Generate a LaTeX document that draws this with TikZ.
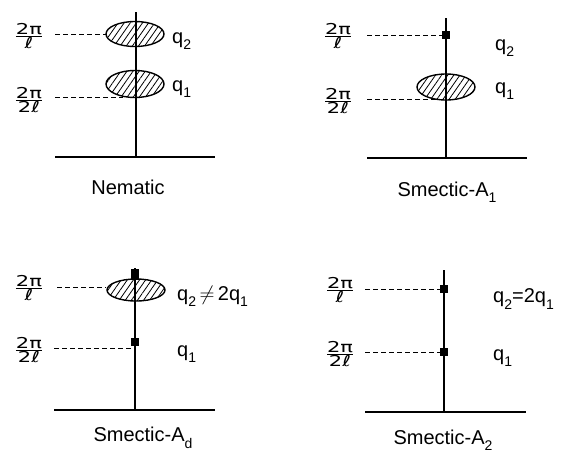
\documentclass[tikz,border=0pt]{standalone}
\usepackage{fontspec}
\setmainfont{Liberation Sans}
\newfontfamily\symf{DejaVu Sans}
\usetikzlibrary{shapes.geometric,patterns.meta}
\newcommand{\sbs}[1]{\raisebox{-0.32em}{\fontsize{14}{14}\selectfont #1}}
\newcommand{\fracl}[1]{\scalebox{1.4}[1]{${\mbox{\symf 2π}\above1.1pt\mbox{\symf #1}}$}}
\tikzset{
  lab/.style={font=\fontsize{20}{23}\selectfont, inner sep=0},
  fr/.style={font=\fontsize{15}{17}\selectfont, inner sep=0},
  hatch/.style={ellipse, draw, line width=1.4pt, inner sep=0,
    pattern={Lines[angle=55,distance=5pt,line width=0.8pt]}},
  sq/.style={rectangle, fill, minimum size=8pt, inner sep=0},
  axisl/.style={line width=1.3pt},
  basel/.style={line width=1.6pt},
  dline/.style={dash pattern=on 5pt off 3pt, line width=0.9pt}
}
\begin{document}
\begin{tikzpicture}[x=1pt,y=-1pt]
\useasboundingbox (0,0) rectangle (563,453);
% ---------- Panel 1: Nematic
\coordinate (a1t) at (136,12); \coordinate (a1b) at (136,157);
\coordinate (b1l) at (55,157); \coordinate (b1r) at (215,157);
\node[hatch, minimum width=58, minimum height=25] (n2) at (135,34) {};
\node[hatch, minimum width=58, minimum height=27] (n1) at (135,84) {};
\draw[axisl] (a1t) -- (a1b);
\draw[basel] (b1l) -- (b1r);
\coordinate (d1a) at (55,34); \coordinate (d1b) at (55,97); \coordinate (d1c) at (123,97);
\draw[dline] (d1a) -- (n2.west);
\draw[dline] (d1b) -- (d1c);
\node[fr] (f1a) at (29,36) {\fracl{ℓ}};
\node[fr] (f1b) at (29,100) {\fracl{2ℓ}};
\node[lab, anchor=west] (q1a) at (172,41) {q\sbs{2}};
\node[lab, anchor=west] (q1b) at (172,89) {q\sbs{1}};
\node[lab] (t1) at (128,187) {Nematic};
% ---------- Panel 2: Smectic-A1
\coordinate (a2t) at (446,18); \coordinate (a2b) at (446,158);
\coordinate (b2l) at (367,158); \coordinate (b2r) at (527,158);
\node[hatch, minimum width=58, minimum height=26] (s1) at (446,87) {};
\draw[axisl] (a2t) -- (a2b);
\draw[basel] (b2l) -- (b2r);
\node[sq] (p2) at (446,35) {};
\coordinate (d2a) at (367,35); \coordinate (d2b) at (367,99); \coordinate (d2c) at (437,99);
\draw[dline] (d2a) -- (p2.west);
\draw[dline] (d2b) -- (d2c);
\node[fr] (f2a) at (338,36) {\fracl{ℓ}};
\node[fr] (f2b) at (338,101) {\fracl{2ℓ}};
\node[lab, anchor=west] (q2a) at (495,48) {q\sbs{2}};
\node[lab, anchor=west] (q2b) at (495,91) {q\sbs{1}};
\node[lab] (t2) at (447,192) {Smectic-A\sbs{1}};
% ---------- Panel 3: Smectic-Ad
\coordinate (a3t) at (135,268); \coordinate (a3b) at (135,410);
\coordinate (b3l) at (54,410); \coordinate (b3r) at (215,410);
\node[hatch, minimum width=58, minimum height=22] (d2) at (136,290) {};
\draw[axisl] (a3t) -- (a3b);
\draw[basel] (b3l) -- (b3r);
\node[sq, minimum height=11pt] (p3a) at (135,274) {};
\node[sq] (p3b) at (135,342) {};
\coordinate (d3a) at (57,287); \coordinate (d3b) at (54,348);
\draw[dline] (d3a) -- (d2.west |- d3a);
\draw[dline] (d3b) -- (p3b.south |- d3b);
\node[fr] (f3a) at (29,288) {\fracl{ℓ}};
\node[fr] (f3b) at (29,350) {\fracl{2ℓ}};
\node[lab, anchor=west] (q3a) at (177,296) {q\sbs{2}$\,\neq\,$2q\sbs{1}};
\node[lab, anchor=west] (q3b) at (177,354) {q\sbs{1}};
\node[lab] (t3) at (143,438) {Smectic-A\sbs{d}};
% ---------- Panel 4: Smectic-A2
\coordinate (a4t) at (444,270); \coordinate (a4b) at (444,412);
\coordinate (b4l) at (365,412); \coordinate (b4r) at (526,412);
\draw[axisl] (a4t) -- (a4b);
\draw[basel] (b4l) -- (b4r);
\node[sq] (p4a) at (444,289) {};
\node[sq] (p4b) at (444,352) {};
\coordinate (d4a) at (365,289); \coordinate (d4b) at (365,352);
\draw[dline] (d4a) -- (p4a.west);
\draw[dline] (d4b) -- (p4b.west);
\node[fr] (f4a) at (340,290) {\fracl{ℓ}};
\node[fr] (f4b) at (340,354) {\fracl{2ℓ}};
\node[lab, anchor=west] (q4a) at (493,299) {q\sbs{2}=2q\sbs{1}};
\node[lab, anchor=west] (q4b) at (493,358) {q\sbs{1}};
\node[lab] (t4) at (443,440) {Smectic-A\sbs{2}};
\end{tikzpicture}
\end{document}
